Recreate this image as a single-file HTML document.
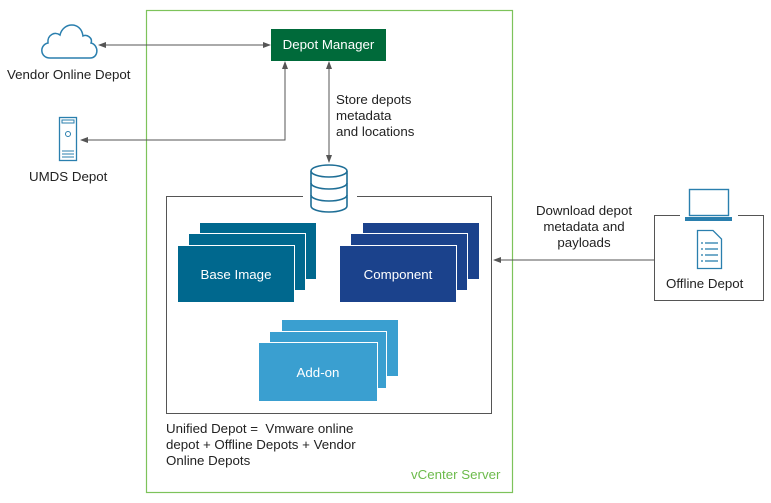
<!DOCTYPE html>
<html><head><meta charset="utf-8"><style>
html,body{margin:0;padding:0;background:#fff;}
body{width:771px;height:503px;position:relative;overflow:hidden;font-family:"Liberation Sans",sans-serif;color:#222;}
.a{position:absolute;}
.card{position:absolute;width:118px;height:58px;border:1px solid #fff;box-sizing:border-box;}
.t{position:absolute;font-size:13.3px;line-height:16px;}
</style></head><body>
<svg class="a" style="left:0;top:0" width="771" height="503">
<defs>
<marker id="ar" markerWidth="8" markerHeight="8" refX="7" refY="4" orient="auto" markerUnits="userSpaceOnUse"><path d="M0,1 L8,4 L0,7 z" fill="#555"/></marker>
<marker id="as" markerWidth="8" markerHeight="8" refX="1" refY="4" orient="auto" markerUnits="userSpaceOnUse"><path d="M8,1 L0,4 L8,7 z" fill="#555"/></marker>
</defs>
<rect x="146.5" y="10.5" width="366" height="482" fill="none" stroke="#7dc35b" stroke-width="1.2"/>
<rect x="166.5" y="196.5" width="325" height="217" fill="none" stroke="#555" stroke-width="1"/>
<rect x="654.5" y="215.5" width="109" height="85" fill="none" stroke="#555" stroke-width="1"/>
<line x1="99" y1="45" x2="270" y2="45" stroke="#555" marker-start="url(#as)" marker-end="url(#ar)"/>
<polyline points="81,140 285,140 285,62" fill="none" stroke="#555" marker-start="url(#as)" marker-end="url(#ar)"/>
<line x1="329" y1="62" x2="329" y2="162" stroke="#555" marker-start="url(#as)" marker-end="url(#ar)"/>
<line x1="654" y1="260" x2="494" y2="260" stroke="#555" marker-end="url(#ar)"/>
<!-- cloud -->
<path d="M50,58 C40,58 39,45 48,43 C47,35 55,31 60,35 C63,22 81,21 83,36 C87,34 93,38 91,43 C99,45 99,58 90,58 Z" fill="#fff" stroke="#2a7fae" stroke-width="1.5"/>
<!-- server -->
<rect x="59.5" y="117.5" width="17" height="43" fill="#fff" stroke="#2a7fae" stroke-width="1.3"/>
<rect x="62" y="120" width="12" height="3" fill="none" stroke="#2a7fae"/>
<circle cx="68" cy="134" r="2.5" fill="none" stroke="#2a7fae"/>
<line x1="62" y1="151" x2="74" y2="151" stroke="#2a7fae"/>
<line x1="62" y1="154" x2="74" y2="154" stroke="#2a7fae"/>
<line x1="62" y1="157" x2="74" y2="157" stroke="#2a7fae"/>
<!-- db -->
<rect x="303" y="163" width="54" height="52" fill="#fff"/>
<path d="M311,171 L311,206 A18,6 0 0 0 347,206 L347,171" fill="#fff" stroke="#1e6e96" stroke-width="1.6"/>
<ellipse cx="329" cy="171" rx="18" ry="6" fill="#fff" stroke="#1e6e96" stroke-width="1.6"/>
<path d="M311,183 A18,6 0 0 0 347,183 M311,195 A18,6 0 0 0 347,195" fill="none" stroke="#1e6e96" stroke-width="1.6"/>
<!-- laptop -->
<rect x="680" y="186" width="58" height="34" fill="#fff"/>
<rect x="689.5" y="189.5" width="39" height="26" fill="#fff" stroke="#2a7fae" stroke-width="1.4"/>
<rect x="685" y="217" width="47" height="4" fill="#2a7fae"/>
<!-- doc -->
<path d="M697.5,230.5 L713,230.5 L721.5,239 L721.5,268.5 L697.5,268.5 Z" fill="#fff" stroke="#2a7fae" stroke-width="1.3"/>
<g stroke="#2a7fae" stroke-width="1.3">
<line x1="701" y1="243" x2="703" y2="243"/><line x1="705" y1="243" x2="718" y2="243"/>
<line x1="701" y1="249" x2="703" y2="249"/><line x1="705" y1="249" x2="718" y2="249"/>
<line x1="701" y1="255" x2="703" y2="255"/><line x1="705" y1="255" x2="718" y2="255"/>
<line x1="701" y1="261" x2="703" y2="261"/><line x1="705" y1="261" x2="718" y2="261"/>
</g>
</svg>
<div class="a" style="left:271px;top:29px;width:115px;height:32px;background:#006a3a;color:#fff;font-size:13.3px;line-height:32px;text-align:center;">Depot Manager</div>
<div class="t" style="left:7px;top:67px;">Vendor Online Depot</div>
<div class="t" style="left:29px;top:169px;">UMDS Depot</div>
<div class="t" style="left:336px;top:92px;">Store depots<br>metadata<br>and locations</div>
<div class="t" style="left:528px;top:203px;text-align:center;width:112px;">Download depot<br>metadata and<br>payloads</div>
<div class="t" style="left:666px;top:276px;">Offline Depot</div>
<div class="card" style="left:199px;top:222px;background:#00688e"></div>
<div class="card" style="left:188px;top:233px;background:#00688e"></div>
<div class="card" style="left:177px;top:245px;background:#00688e;color:#fff;font-size:13.3px;line-height:58px;text-align:center;">Base Image</div>
<div class="card" style="left:362px;top:222px;background:#1b428c"></div>
<div class="card" style="left:350px;top:233px;background:#1b428c"></div>
<div class="card" style="left:339px;top:245px;background:#1b428c;color:#fff;font-size:13.3px;line-height:58px;text-align:center;">Component</div>
<div class="card" style="left:281px;top:319px;background:#3a9fd0"></div>
<div class="card" style="left:269px;top:331px;background:#3a9fd0"></div>
<div class="card" style="left:258px;top:342px;width:120px;height:60px;background:#3a9fd0;color:#fff;font-size:13.3px;line-height:60px;text-align:center;">Add-on</div>
<div class="t" style="left:166px;top:421px;">Unified Depot =&nbsp; Vmware online<br>depot + Offline Depots + Vendor<br>Online Depots</div>
<div class="t" style="left:411px;top:467px;color:#6dbb4c;">vCenter Server</div>
</body></html>
